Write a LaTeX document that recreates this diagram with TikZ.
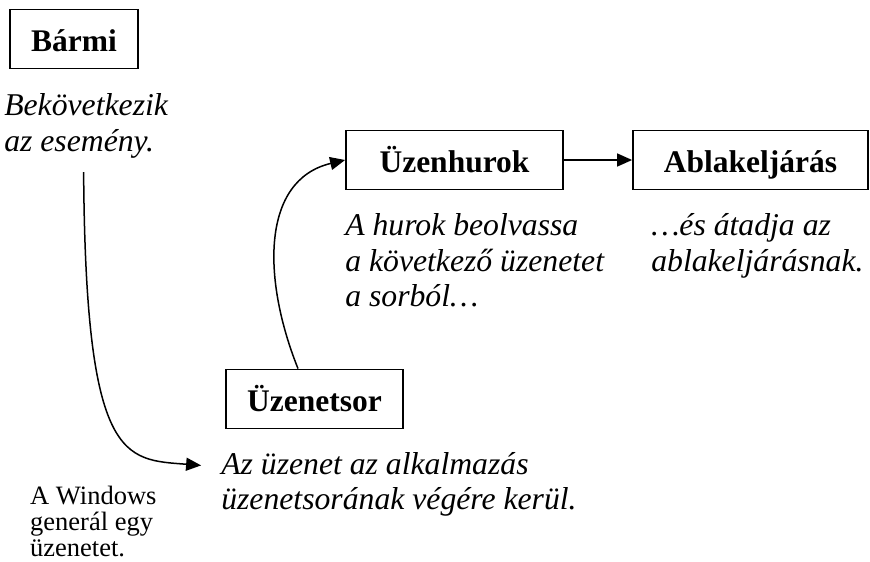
\documentclass[tikz,border=0pt]{standalone}
\usepackage{fontspec}
\setmainfont{Liberation Serif}
\usetikzlibrary{positioning,arrows.meta}

\begin{document}
\begin{tikzpicture}[x=1pt,y=-1pt,node distance=20pt]
\tikzstyle{doboz}=[rectangle,draw,line width=1.8pt,minimum height=59pt,inner sep=0pt,text height=24pt,text depth=0pt,font=\fontsize{31.5}{36}\selectfont\bfseries]
\tikzstyle{magyar}=[inner sep=0pt,align=left,font=\fontsize{31.7}{35.5}\selectfont\itshape]
\tikzstyle{apro}=[inner sep=0pt,align=left,font=\fontsize{26.5}{26}\selectfont]
\tikzstyle{nyil}=[line width=1.5pt,-{Triangle[length=15pt,width=13pt]}]
\useasboundingbox (0,0) rectangle (870,562);
\node (barmi) [doboz,minimum width=128pt] at (74,39) {Bármi};
\node (hurok) [doboz,minimum width=217pt] at (454.5,160) {Üzenhurok};
\node (ablak) [doboz,minimum width=235pt] at (750.5,160) {Ablakeljárás};
\node (sor) [doboz,minimum width=177pt] at (314.5,399) {Üzenetsor};
\node (esemeny) [magyar,below=24pt of barmi.south west,anchor=north west,xshift=-5pt] {Bekövetkezik\\az esemény.};
\node (hurokszoveg) [magyar,below=23pt of hurok.south west,anchor=north west] {A hurok beolvassa\\a következő üzenetet\\a sorból…};
\node (ablakszoveg) [magyar,below=23pt of ablak.south west,anchor=north west,xshift=19pt] {…és átadja az\\ablakeljárásnak.};
\node (sorvege) [magyar,below=22.5pt of sor.south west,anchor=north west,xshift=-4pt] {Az üzenet az alkalmazás\\üzenetsorának végére kerül.};
\node (windows) [apro,anchor=north west] at (30,486) {A Windows\\generál egy\\üzenetet.};
% a nyilak
\draw[nyil] ([xshift=-2.5pt,yshift=-14pt]esemeny.south) .. controls +(2,291) and +(-77,-6) .. ([xshift=-20pt,yshift=-13.5pt]sorvege.north west);
\draw[nyil] ([xshift=-16.5pt]sor.north) .. controls +(-36,-90) and +(-84,20) .. (hurok.west);
\draw[nyil] (hurok) -- (ablak);
\end{tikzpicture}
\end{document}
